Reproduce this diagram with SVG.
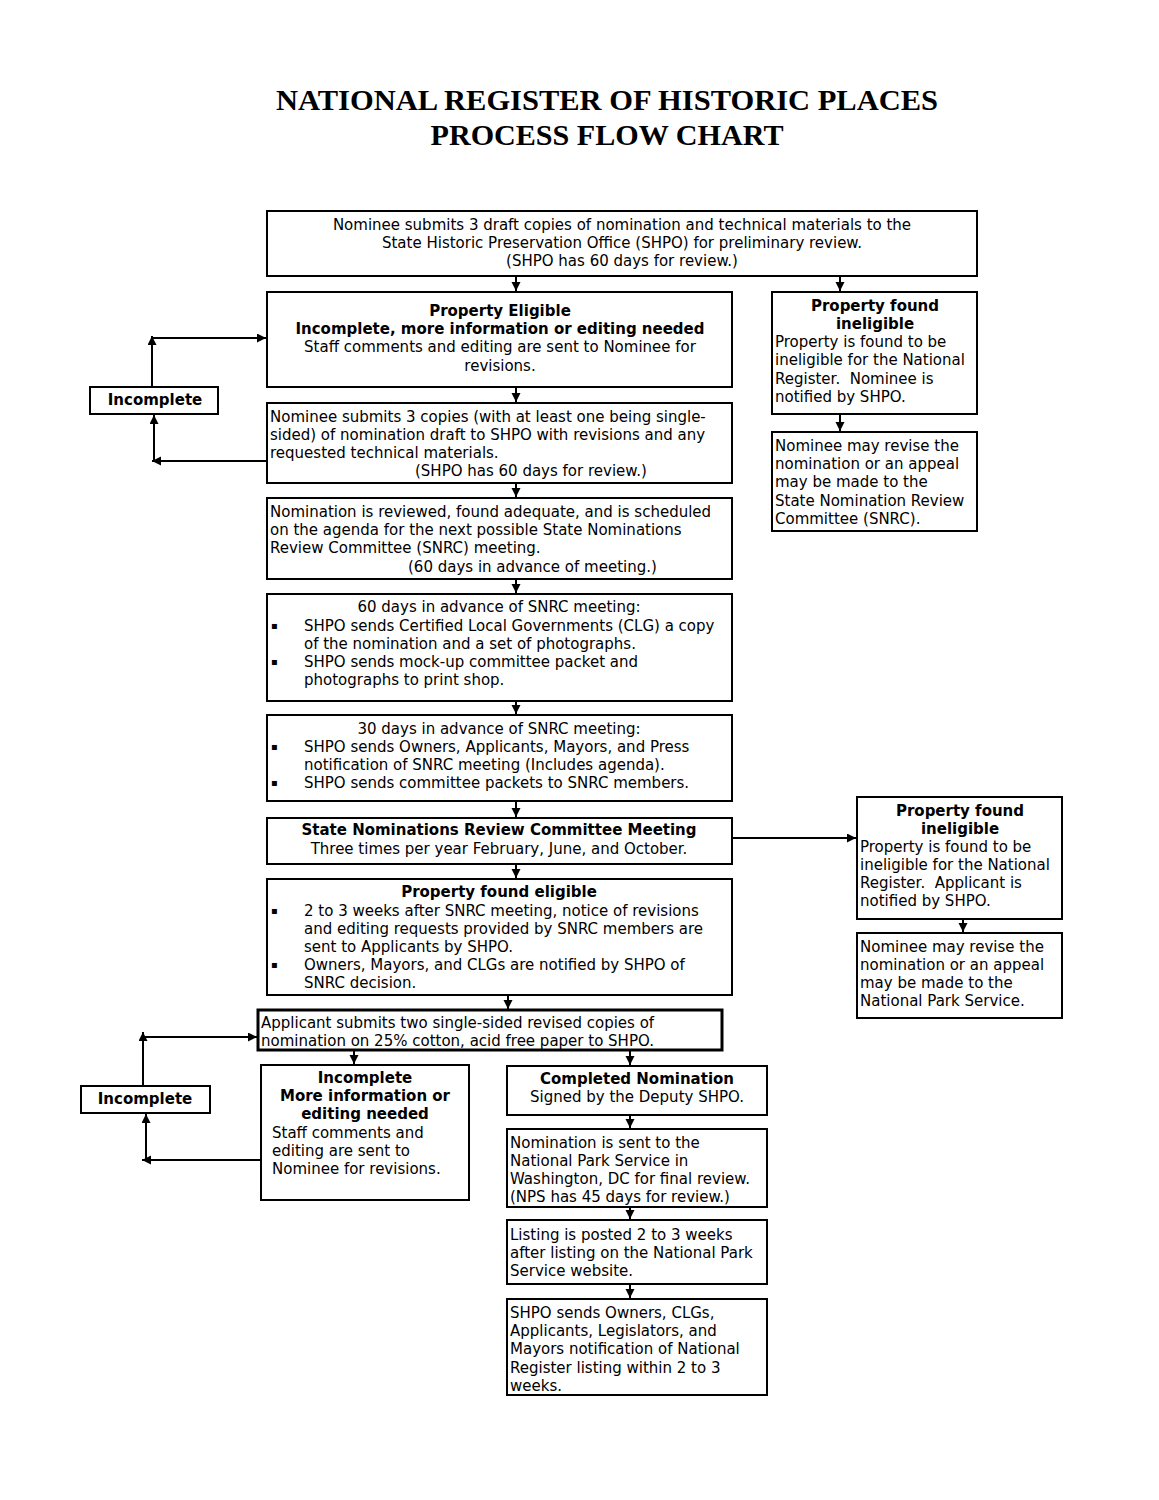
<svg xmlns="http://www.w3.org/2000/svg" width="1159" height="1500" viewBox="0 0 1159 1500">
<style>
.box{fill:#fff;stroke:#000;stroke-width:2}
.thick{stroke-width:3}
text{font-family:"DejaVu Sans",Verdana,sans-serif;font-size:15px;fill:#000}
.b{font-weight:bold}
.c{text-anchor:middle}
.bul{font-size:10px}
.title{font-family:"Liberation Serif","Times New Roman",serif;font-size:30px;font-weight:bold;text-anchor:middle}
.ln{fill:none;stroke:#000;stroke-width:2}
</style>
<defs>
<marker id="ah" markerUnits="userSpaceOnUse" markerWidth="10" markerHeight="10" refX="9" refY="4.5" orient="auto">
<path d="M0,0 L9,4.5 L0,9 z" fill="#000"/>
</marker>
</defs>
<rect width="1159" height="1500" fill="#fff"/>
<g id="title">
<text class="title" x="607" y="110" textLength="662" lengthAdjust="spacingAndGlyphs">NATIONAL REGISTER OF HISTORIC PLACES</text>
<text class="title" x="607" y="145" textLength="353" lengthAdjust="spacingAndGlyphs">PROCESS FLOW CHART</text>
</g>
<g id="connectors">
<path class="ln" d="M516,277 V291" marker-end="url(#ah)"/>
<path class="ln" d="M840,277 V291" marker-end="url(#ah)"/>
<path class="ln" d="M516,388 V402" marker-end="url(#ah)"/>
<path class="ln" d="M516,484 V497" marker-end="url(#ah)"/>
<path class="ln" d="M516,580 V593" marker-end="url(#ah)"/>
<path class="ln" d="M516,702 V714" marker-end="url(#ah)"/>
<path class="ln" d="M516,802 V817" marker-end="url(#ah)"/>
<path class="ln" d="M516,865 V878" marker-end="url(#ah)"/>
<path class="ln" d="M508,996 V1009" marker-end="url(#ah)"/>
<path class="ln" d="M840,415 V431" marker-end="url(#ah)"/>
<path class="ln" d="M963,920 V932" marker-end="url(#ah)"/>
<path class="ln" d="M733,838 H856" marker-end="url(#ah)"/>
<path class="ln" d="M267,461 H152" marker-end="url(#ah)"/>
<path class="ln" d="M154,461 V415" marker-end="url(#ah)"/>
<path class="ln" d="M152,387 V336" marker-end="url(#ah)"/>
<path class="ln" d="M152,338 H266" marker-end="url(#ah)"/>
<path class="ln" d="M260,1160 H142" marker-end="url(#ah)"/>
<path class="ln" d="M146,1160 V1114" marker-end="url(#ah)"/>
<path class="ln" d="M143,1086 V1032" marker-end="url(#ah)"/>
<path class="ln" d="M143,1037 H257" marker-end="url(#ah)"/>
<path class="ln" d="M354,1051 V1064" marker-end="url(#ah)"/>
<path class="ln" d="M630,1051 V1065" marker-end="url(#ah)"/>
<path class="ln" d="M630,1116 V1128" marker-end="url(#ah)"/>
<path class="ln" d="M630,1208 V1219" marker-end="url(#ah)"/>
<path class="ln" d="M630,1285 V1298" marker-end="url(#ah)"/>
</g>
<g id="n-submit-draft">
<rect class="box" x="267" y="211" width="710" height="65"/>
<text class="c" x="622" y="230">Nominee submits 3 draft copies of nomination and technical materials to the</text>
<text class="c" x="622" y="248">State Historic Preservation Office (SHPO) for preliminary review.</text>
<text class="c" x="622" y="266">(SHPO has 60 days for review.)</text>
</g>
<g id="n-eligible-incomplete">
<rect class="box" x="267" y="292" width="465" height="95"/>
<text class="c b" x="500" y="316">Property Eligible</text>
<text class="c b" x="500" y="334">Incomplete, more information or editing needed</text>
<text class="c" x="500" y="352">Staff comments and editing are sent to Nominee for</text>
<text class="c" x="500" y="371">revisions.</text>
</g>
<g id="n-ineligible-1">
<rect class="box" x="772" y="292" width="205" height="122"/>
<text class="c b" x="875" y="311">Property found</text>
<text class="c b" x="875" y="329">ineligible</text>
<text x="775" y="347">Property is found to be</text>
<text x="775" y="365">ineligible for the National</text>
<text x="775" y="384" xml:space="preserve">Register.  Nominee is</text>
<text x="775" y="402">notified by SHPO.</text>
</g>
<g id="n-revise-1">
<rect class="box" x="772" y="432" width="205" height="99"/>
<text x="775" y="451">Nominee may revise the</text>
<text x="775" y="469">nomination or an appeal</text>
<text x="775" y="487">may be made to the</text>
<text x="775" y="506">State Nomination Review</text>
<text x="775" y="524">Committee (SNRC).</text>
</g>
<g id="n-incomplete-1">
<rect class="box" x="90" y="387" width="128" height="27"/>
<text class="c b" x="155" y="405">Incomplete</text>
</g>
<g id="n-submit-copies">
<rect class="box" x="267" y="403" width="465" height="80"/>
<text x="270" y="422">Nominee submits 3 copies (with at least one being single-</text>
<text x="270" y="440">sided) of nomination draft to SHPO with revisions and any</text>
<text x="270" y="458">requested technical materials.</text>
<text x="415" y="476">(SHPO has 60 days for review.)</text>
</g>
<g id="n-reviewed">
<rect class="box" x="267" y="498" width="465" height="81"/>
<text x="270" y="517">Nomination is reviewed, found adequate, and is scheduled</text>
<text x="270" y="535">on the agenda for the next possible State Nominations</text>
<text x="270" y="553">Review Committee (SNRC) meeting.</text>
<text x="408" y="572">(60 days in advance of meeting.)</text>
</g>
<g id="n-60days">
<rect class="box" x="267" y="594" width="465" height="107"/>
<text class="c" x="499" y="612">60 days in advance of SNRC meeting:</text>
<text class="bul" x="271" y="629">▪</text>
<text x="304" y="631">SHPO sends Certified Local Governments (CLG) a copy</text>
<text x="304" y="649">of the nomination and a set of photographs.</text>
<text class="bul" x="271" y="665">▪</text>
<text x="304" y="667">SHPO sends mock-up committee packet and</text>
<text x="304" y="685">photographs to print shop.</text>
</g>
<g id="n-30days">
<rect class="box" x="267" y="715" width="465" height="86"/>
<text class="c" x="499" y="734">30 days in advance of SNRC meeting:</text>
<text class="bul" x="271" y="750">▪</text>
<text x="304" y="752">SHPO sends Owners, Applicants, Mayors, and Press</text>
<text x="304" y="770">notification of SNRC meeting (Includes agenda).</text>
<text class="bul" x="271" y="786">▪</text>
<text x="304" y="788">SHPO sends committee packets to SNRC members.</text>
</g>
<g id="n-snrc-meeting">
<rect class="box" x="267" y="818" width="465" height="46"/>
<text class="c b" x="499" y="835">State Nominations Review Committee Meeting</text>
<text class="c" x="499" y="854">Three times per year February, June, and October.</text>
</g>
<g id="n-eligible">
<rect class="box" x="267" y="879" width="465" height="116"/>
<text class="c b" x="499" y="897">Property found eligible</text>
<text class="bul" x="271" y="914">▪</text>
<text x="304" y="916">2 to 3 weeks after SNRC meeting, notice of revisions</text>
<text x="304" y="934">and editing requests provided by SNRC members are</text>
<text x="304" y="952">sent to Applicants by SHPO.</text>
<text class="bul" x="271" y="968">▪</text>
<text x="304" y="970">Owners, Mayors, and CLGs are notified by SHPO of</text>
<text x="304" y="988">SNRC decision.</text>
</g>
<g id="n-ineligible-2">
<rect class="box" x="857" y="797" width="205" height="122"/>
<text class="c b" x="960" y="816">Property found</text>
<text class="c b" x="960" y="834">ineligible</text>
<text x="860" y="852">Property is found to be</text>
<text x="860" y="870">ineligible for the National</text>
<text x="860" y="888" xml:space="preserve">Register.  Applicant is</text>
<text x="860" y="906">notified by SHPO.</text>
</g>
<g id="n-revise-2">
<rect class="box" x="857" y="933" width="205" height="85"/>
<text x="860" y="952">Nominee may revise the</text>
<text x="860" y="970">nomination or an appeal</text>
<text x="860" y="988">may be made to the</text>
<text x="860" y="1006">National Park Service.</text>
</g>
<g id="n-applicant-submits">
<rect class="box thick" x="258" y="1010" width="464" height="40"/>
<text x="261" y="1028">Applicant submits two single-sided revised copies of</text>
<text x="261" y="1046">nomination on 25% cotton, acid free paper to SHPO.</text>
</g>
<g id="n-incomplete-2">
<rect class="box" x="81" y="1086" width="129" height="27"/>
<text class="c b" x="145" y="1104">Incomplete</text>
</g>
<g id="n-incomplete-more">
<rect class="box" x="261" y="1065" width="208" height="135"/>
<text class="c b" x="365" y="1083">Incomplete</text>
<text class="c b" x="365" y="1101">More information or</text>
<text class="c b" x="365" y="1119">editing needed</text>
<text x="272" y="1138">Staff comments and</text>
<text x="272" y="1156">editing are sent to</text>
<text x="272" y="1174">Nominee for revisions.</text>
</g>
<g id="n-completed">
<rect class="box" x="507" y="1066" width="260" height="49"/>
<text class="c b" x="637" y="1084">Completed Nomination</text>
<text class="c" x="637" y="1102">Signed by the Deputy SHPO.</text>
</g>
<g id="n-sent-nps">
<rect class="box" x="507" y="1129" width="260" height="78"/>
<text x="510" y="1148">Nomination is sent to the</text>
<text x="510" y="1166">National Park Service in</text>
<text x="510" y="1184">Washington, DC for final review.</text>
<text x="510" y="1202">(NPS has 45 days for review.)</text>
</g>
<g id="n-listing">
<rect class="box" x="507" y="1220" width="260" height="64"/>
<text x="510" y="1240">Listing is posted 2 to 3 weeks</text>
<text x="510" y="1258">after listing on the National Park</text>
<text x="510" y="1276">Service website.</text>
</g>
<g id="n-notify">
<rect class="box" x="507" y="1299" width="260" height="96"/>
<text x="510" y="1318">SHPO sends Owners, CLGs,</text>
<text x="510" y="1336">Applicants, Legislators, and</text>
<text x="510" y="1354">Mayors notification of National</text>
<text x="510" y="1373">Register listing within 2 to 3</text>
<text x="510" y="1391">weeks.</text>
</g>
</svg>
